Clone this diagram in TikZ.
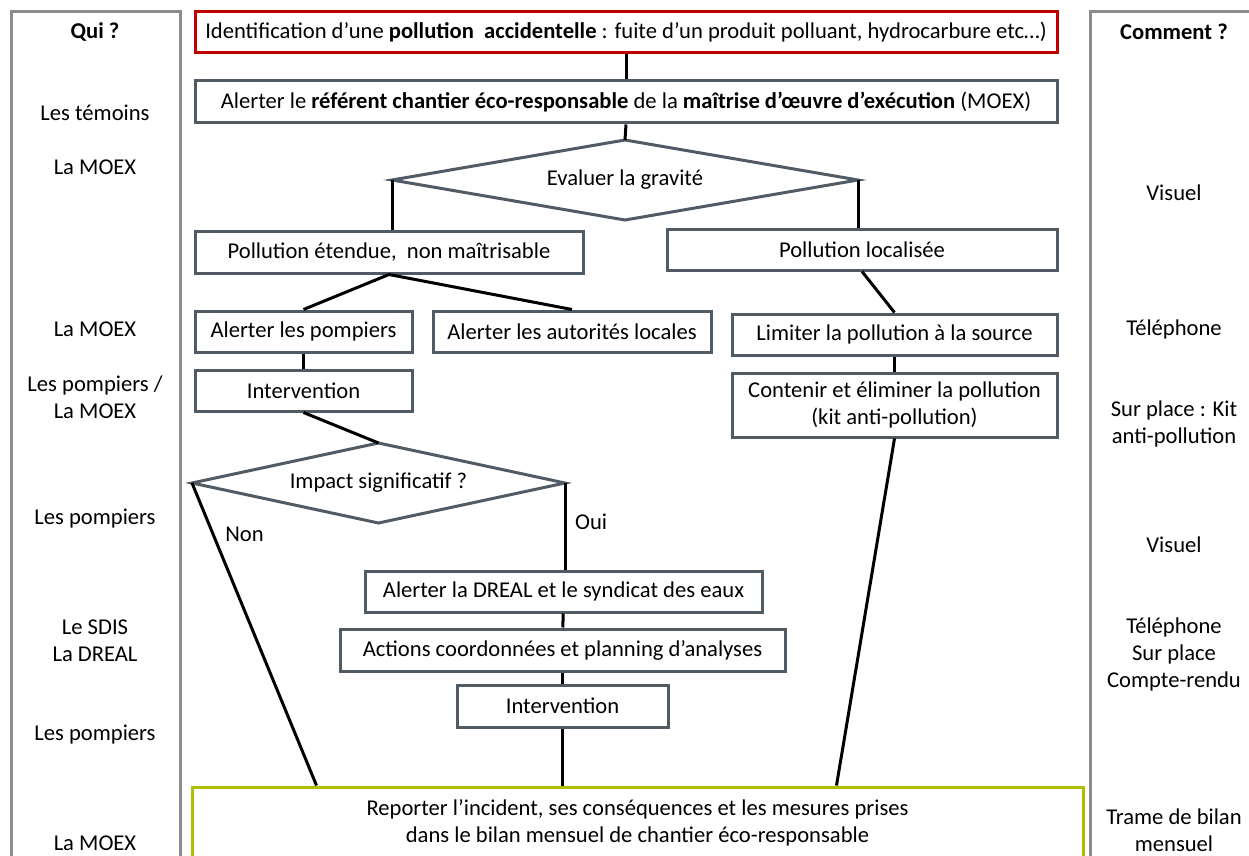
\documentclass[tikz,border=0pt]{standalone}
\usepackage{fontspec}
\setmainfont{Carlito}
\usepackage{tikz}
\usetikzlibrary{shapes.geometric, positioning, calc}
\definecolor{boxline}{RGB}{81,91,102}
\definecolor{alertred}{RGB}{192,0,0}
\definecolor{reportgreen}{RGB}{178,190,0}
\definecolor{colgray}{RGB}{140,140,140}
\tikzset{
  flowbox/.style={rectangle, draw=boxline, line width=1.5pt,
    inner sep=0pt, align=center},
  redbox/.style={flowbox, draw=alertred},
  greenbox/.style={flowbox, draw=reportgreen},
  decision/.style={diamond, draw=boxline, line width=1.5pt,
    inner sep=0pt, outer sep=0pt, align=center},
  link/.style={line width=1.5pt, color=black},
  column/.style={line width=1.5pt, color=colgray},
  side/.style={align=center}
}

\begin{document}
\begin{tikzpicture}[x=0.5pt, y=-0.5pt,
  every node/.style={font=\fontsize{11.3}{13.5}\selectfont}]
\useasboundingbox (0,0) rectangle (1249,856);
\clip (0,0) rectangle (1249,856);
% side columns
\draw[column] (11,12) rectangle (180,900);
\draw[column] (1090,12) rectangle (1300,900);
% who
\node[side] (qui) at (95,32) {\textbf{Qui ?}};
\node[side] (quiA) at (95,113) {Les témoins};
\node[side] (quiB) at (95,167) {La MOEX};
\node[side] (quiC) at (95,329) {La MOEX};
\node[side] (quiD) at (95,397) {Les pompiers /\\La MOEX};
\node[side] (quiE) at (95,519) {Les pompiers};
\node[side] (quiF) at (95,641) {Le SDIS\\La DREAL};
\node[side] (quiG) at (95,735) {Les pompiers};
\node[side] (quiH) at (95,843) {La MOEX};
% how
\node[side] (comment) at (1174,32) {\textbf{Comment ?}};
\node[side] (howA) at (1174,193) {Visuel};
\node[side] (howB) at (1174,329) {Téléphone};
\node[side] (howC) at (1174,424) {Sur place : Kit\\anti-pollution};
\node[side] (howD) at (1174,545) {Visuel};
\node[side] (howE) at (1174,654) {Téléphone\\Sur place\\Compte-rendu};
\node[side] (howF) at (1174,830) {Trame de bilan\\mensuel};
% main flow
\node[redbox, minimum width=431pt, minimum height=20.5pt] (ident) at (626,32.5)
  {Identification d’une \textbf{pollution\ \ accidentelle} : fuite d’un produit polluant, hydrocarbure etc…)};
\node[flowbox, minimum width=431pt, minimum height=21pt] (alert) at (626,102)
  {Alerter le \textbf{référent chantier éco-responsable} de la \textbf{maîtrise d’œuvre d’exécution} (MOEX)};
\node[decision, minimum width=233pt, minimum height=40pt, aspect=5.8] (gravite) at (625,180)
  {Evaluer la gravité};
\node[flowbox, minimum width=194pt, minimum height=20.5pt] (polext) at (389,252.5)
  {Pollution étendue,\ \ non maîtrisable};
\node[flowbox, minimum width=195pt, minimum height=20pt] (polloc) at (862,250)
  {Pollution localisée};
% left branch
\node[flowbox, minimum width=108.5pt, minimum height=20.5pt] (pompiers) at (303.5,331.5)
  {Alerter les pompiers};
\node[flowbox, minimum width=139pt, minimum height=20.5pt] (autorites) at (572,331.5)
  {Alerter les autorités locales};
\node[flowbox, minimum width=108.5pt, minimum height=20.5pt] (interv) at (303.5,390.5)
  {Intervention};
\node[decision, minimum width=186.5pt, minimum height=40pt, aspect=4.66] (impact) at (378.5,483)
  {Impact significatif ?};
\node[flowbox, minimum width=198.5pt, minimum height=20.5pt] (dreal) at (563.5,591.5)
  {Alerter la DREAL et le syndicat des eaux};
\node[flowbox, minimum width=222.5pt, minimum height=21pt] (actions) at (562.5,650)
  {Actions coordonnées et planning d’analyses};
\node[flowbox, minimum width=105.5pt, minimum height=21pt] (intervB) at (562.5,706)
  {Intervention};
% right branch
\node[flowbox, minimum width=162.5pt, minimum height=20.5pt] (limite) at (894.5,334.5)
  {Limiter la pollution à la source};
\node[flowbox, minimum width=162.5pt, minimum height=32pt] (contenir) at (894.5,405)
  {Contenir et éliminer la pollution\\(kit anti-pollution)};
% report
\node[greenbox, minimum width=445.5pt, minimum height=36pt] (report) at (637.5,823)
  {Reporter l’incident, ses conséquences et les mesures prises\\dans le bilan mensuel de chantier éco-responsable};
\coordinate (nonend) at ($(report.north west)+(126,0)$);
\coordinate (locend) at ($(report.north west)+(646,0)$);
% connectors
\draw[link] (ident) -- (alert);
\draw[link] (alert.south) -- (gravite.north);
\draw[link] (gravite.west) -- (gravite.west |- polext.north);
\draw[link] (gravite.east) -- (gravite.east |- polloc.north);
\draw[link] (polext.south) -- (pompiers.north);
\draw[link] (polext.south) -- (autorites.north);
\draw[link] (pompiers) -- (interv);
\draw[link] (interv.south) -- (impact.north);
\draw[link] (impact.west) -- node[pos=0.17, right=2pt] (non) {Non} (nonend);
\draw[link] (impact.east) -- node[pos=0.45, right=1pt] (oui) {Oui} (impact.east |- dreal.north);
\draw[link] (dreal) -- (actions);
\draw[link] (actions) -- (intervB);
\draw[link] (intervB) -- (intervB |- report.north);
\draw[link] (polloc.south) -- (limite.north);
\draw[link] (limite) -- (contenir);
\draw[link] (contenir.south) -- (locend);
\end{tikzpicture}
\end{document}
